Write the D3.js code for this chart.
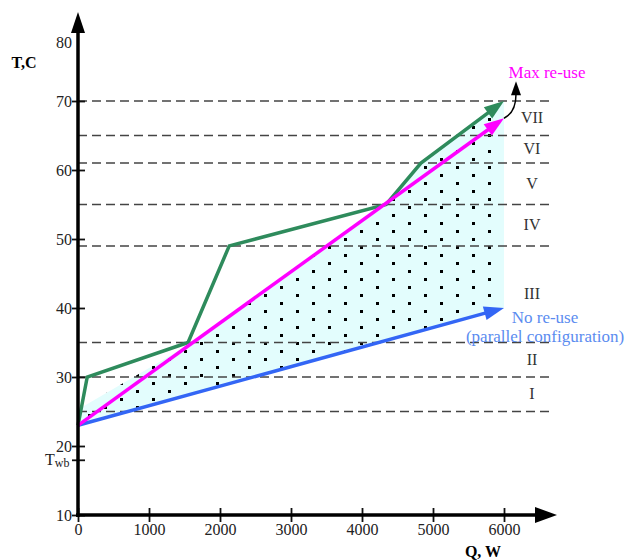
<!DOCTYPE html>
<html lang="en">
  <head>
    <meta charset="UTF-8" />
    <title>Heat re-use zones</title>
    <style>
      body {
        margin: 0;
        background: #fff;
      }
      svg text {
        font-family: "Liberation Serif", "DejaVu Serif", serif;
      }
    </style>
  </head>
  <body>
    <div id="chart"></div>
    <script src="https://cdn.jsdelivr.net/npm/d3@7"></script>
    <script>
      // data
      const xTicks = [0, 1000, 2000, 3000, 4000, 5000, 6000];
      const yTicks = [10, 20, 30, 40, 50, 60, 70];
      const tWetBulb = 18;
      const zoneBounds = [25, 30, 35, 49, 55, 61, 65, 70];
      const zoneLabels = ["I", "II", "III", "IV", "V", "VI", "VII"];

      const greenQ = [0, 130, 1550, 2130, 4340, 4830, 6000];
      const greenT = [23, 30, 35, 49, 55, 61, 70];
      const maxQ = [0, 6000];
      const maxT = [23, 67.5];
      const noQ = [0, 6000];
      const noT = [23, 40];

      // shaded feasible region
      const shadeQ = [0, 0, 1550, 4340, 4830, 6000, 6000];
      const shadeT = [23, 25.3, 34.6, 55.2, 61, 70, 40];

      const width = 627;
      const height = 560;

      const x = d3.scaleLinear().domain([0, 6000]).range([78, 504]);
      const y = d3.scaleLinear().domain([10, 80]).range([515, 32]);

      const svg = d3
        .select("#chart")
        .append("svg")
        .attr("width", width)
        .attr("height", height);

      const defs = svg.append("defs");
      const pat = defs
        .append("pattern")
        .attr("id", "dots")
        .attr("patternUnits", "userSpaceOnUse")
        .attr("x", 8)
        .attr("y", 6)
        .attr("width", 32)
        .attr("height", 16);
      pat.append("rect").attr("x", 0).attr("y", 0).attr("width", 3).attr("height", 3).attr("fill", "#000");
      pat.append("rect").attr("x", 16).attr("y", 8).attr("width", 3).attr("height", 3).attr("fill", "#000");

      const pts = (qs, ts) => qs.map((q, i) => [x(q), y(ts[i])]);

      // shaded area
      const shade = pts(shadeQ, shadeT);
      svg.append("path").attr("d", d3.line()(shade) + "Z").attr("fill", "#e3fdfd");
      svg.append("path").attr("d", d3.line()(shade) + "Z").attr("fill", "url(#dots)");

      // zone boundaries
      svg
        .selectAll(".zone")
        .data(zoneBounds)
        .join("line")
        .attr("x1", x(0))
        .attr("x2", 552)
        .attr("y1", (d) => y(d))
        .attr("y2", (d) => y(d))
        .attr("stroke", "#444")
        .attr("stroke-width", 1.5)
        .attr("stroke-dasharray", "9,5");

      svg
        .selectAll(".zlab")
        .data(zoneLabels)
        .join("text")
        .attr("x", x(6000) + 28)
        .attr("y", (d, i) => y((zoneBounds[i] + zoneBounds[i + 1]) / 2) + 5)
        .attr("text-anchor", "middle")
        .attr("font-size", 16)
        .attr("fill", "#333")
        .text((d) => d);

      // line with arrow head at its end
      function arrowLine(p, color, w) {
        const a = p[p.length - 2];
        const b = p[p.length - 1];
        const ang = Math.atan2(b[1] - a[1], b[0] - a[0]);
        const len = 20,
          hw = 7;
        const cut = p.slice(0, -1).concat([[b[0] - Math.cos(ang) * 12, b[1] - Math.sin(ang) * 12]]);
        svg
          .append("path")
          .attr("d", d3.line()(cut))
          .attr("fill", "none")
          .attr("stroke", color)
          .attr("stroke-width", w)
          .attr("stroke-linejoin", "miter");
        const bx = b[0] - Math.cos(ang) * len,
          by = b[1] - Math.sin(ang) * len;
        const head = [
          b,
          [bx - Math.sin(ang) * hw, by + Math.cos(ang) * hw],
          [bx + Math.sin(ang) * hw, by - Math.cos(ang) * hw],
        ];
        svg.append("path").attr("d", d3.line()(head) + "Z").attr("fill", color);
      }

      arrowLine(pts(greenQ, greenT), "#2e8b5c", 3.5);
      arrowLine(pts(noQ, noT), "#3366f5", 3.5);
      arrowLine(pts(maxQ, maxT), "#ff00ff", 3.5);

      // curved pointer to the label
      const tip = [x(6000), y(maxT[1])];
      svg
        .append("path")
        .attr("d", `M${tip[0]},${tip[1]} C${tip[0] + 10},${tip[1] - 5} ${tip[0] + 12},${tip[1] - 15} ${tip[0] + 12},${tip[1] - 24}`)
        .attr("fill", "none")
        .attr("stroke", "#000")
        .attr("stroke-width", 1.5);
      svg
        .append("path")
        .attr("d", `M${tip[0] + 12},${tip[1] - 37} L${tip[0] + 7},${tip[1] - 23} L${tip[0] + 17},${tip[1] - 23}Z`)
        .attr("fill", "#000");

      svg
        .append("text")
        .attr("x", tip[0] + 43)
        .attr("y", tip[1] - 40)
        .attr("text-anchor", "middle")
        .attr("font-size", 17)
        .attr("fill", "#ff00ff")
        .text("Max re-use");

      const blueTip = [x(6000), y(noT[1])];
      svg
        .append("text")
        .attr("x", blueTip[0] + 41)
        .attr("y", blueTip[1] + 15)
        .attr("text-anchor", "middle")
        .attr("font-size", 17)
        .attr("fill", "#5b8cf0")
        .text("No re-use");
      svg
        .append("text")
        .attr("x", blueTip[0] + 41)
        .attr("y", blueTip[1] + 34)
        .attr("text-anchor", "middle")
        .attr("font-size", 17)
        .attr("fill", "#5b8cf0")
        .text("(parallel configuration)");

      // axes
      const yAxis = svg
        .append("g")
        .attr("transform", `translate(${x(0)},0)`)
        .call(
          d3
            .axisLeft(y)
            .tickValues(yTicks.concat([tWetBulb]))
            .tickSize(6)
            .tickFormat((d) => (d === tWetBulb ? "" : d3.format("d")(d)))
        )
        .attr("font-family", "Liberation Serif");
      yAxis.select(".domain").remove();
      yAxis.selectAll(".tick line").attr("x1", -6).attr("x2", 7).attr("stroke", "#111").attr("stroke-width", 1.8);
      yAxis.selectAll(".tick text").attr("x", -6).attr("font-size", 16).attr("fill", "#222");

      const xAxis = svg
        .append("g")
        .attr("transform", `translate(0,${y(10)})`)
        .call(d3.axisBottom(x).tickValues(xTicks).tickSize(7).tickFormat(d3.format("d")))
        .attr("font-family", "Liberation Serif");
      xAxis.select(".domain").remove();
      xAxis.selectAll(".tick line").attr("y1", -7).attr("y2", 7).attr("stroke", "#111").attr("stroke-width", 1.8);
      xAxis.selectAll(".tick text").attr("y", 9).attr("font-size", 16).attr("fill", "#222");

      // axis lines with arrow heads
      svg.append("line").attr("x1", x(0)).attr("x2", x(0)).attr("y1", y(10) + 2).attr("y2", 30).attr("stroke", "#000").attr("stroke-width", 3.5);
      svg.append("path").attr("d", `M${x(0)},12 L${x(0) - 7},33 L${x(0) + 7},33Z`).attr("fill", "#000");
      svg.append("line").attr("x1", x(0) - 2).attr("x2", 537).attr("y1", y(10)).attr("y2", y(10)).attr("stroke", "#000").attr("stroke-width", 3.5);
      svg.append("path").attr("d", `M557,${y(10)} L535,${y(10) - 8} L535,${y(10) + 8}Z`).attr("fill", "#000");

      svg.append("text").attr("x", x(0) - 6).attr("y", y(80) + 16).attr("text-anchor", "end").attr("font-size", 16).attr("fill", "#222").text("80");

      // Twb label
      const twb = svg.append("text").attr("x", 45).attr("y", y(tWetBulb) + 5).attr("font-size", 16).attr("fill", "#222");
      twb.append("tspan").text("T");
      twb.append("tspan").attr("font-size", 12).attr("dy", 2).text("wb");

      svg.append("text").attr("x", 24).attr("y", 68).attr("text-anchor", "middle").attr("font-size", 16).attr("font-weight", "bold").text("T,C");
      svg.append("text").attr("x", 483).attr("y", 557).attr("text-anchor", "middle").attr("font-size", 16).attr("font-weight", "bold").text("Q, W");
    </script>
  </body>
</html>
